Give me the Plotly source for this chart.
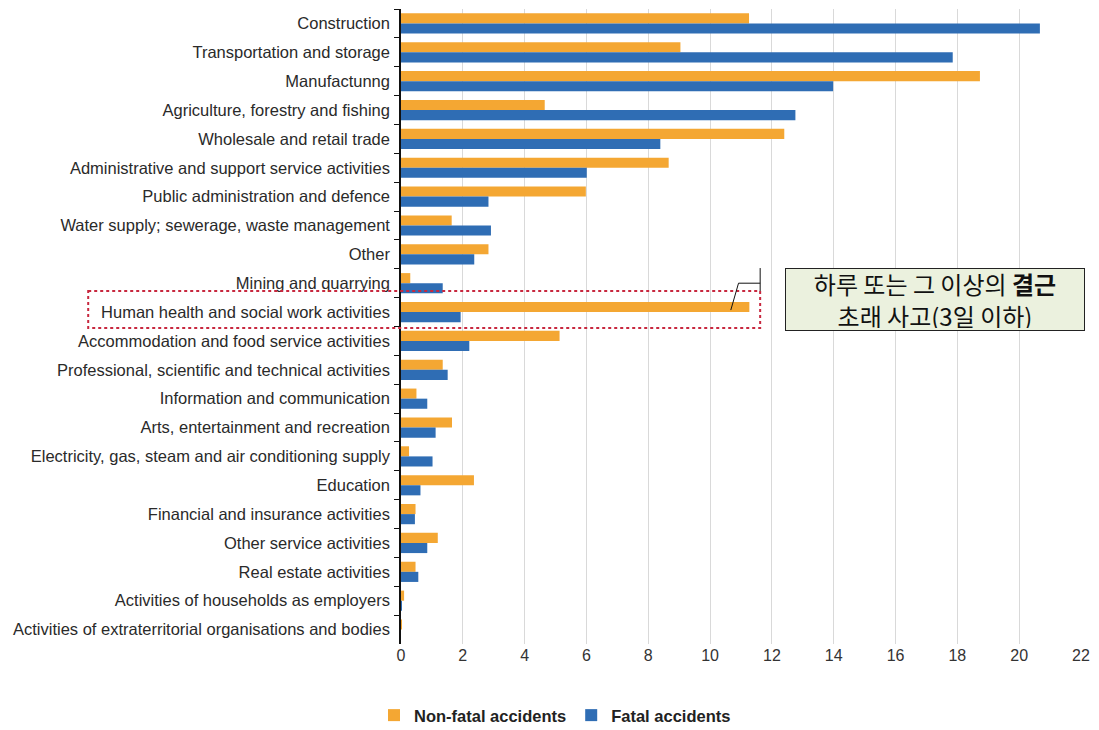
import plotly.graph_objects as go

# Share of accidents at work by economic activity (%)
sectors = [
    "Construction",
    "Transportation and storage",
    "Manufactunng",
    "Agriculture, forestry and fishing",
    "Wholesale and retail trade",
    "Administrative and support service activities",
    "Public administration and defence",
    "Water supply; sewerage, waste management",
    "Other",
    "Mining and quarrying",
    "Human health and social work activities",
    "Accommodation and food service activities",
    "Professional, scientific and technical activities",
    "Information and communication",
    "Arts, entertainment and recreation",
    "Electricity, gas, steam and air conditioning supply",
    "Education",
    "Financial and insurance activities",
    "Other service activities",
    "Real estate activities",
    "Activities of households as employers",
    "Activities of extraterritorial organisations and bodies",
]

non_fatal = [11.26, 9.04, 18.73, 4.65, 12.40, 8.66, 5.98, 1.64, 2.83, 0.30, 11.27,
             5.13, 1.35, 0.50, 1.65, 0.26, 2.36, 0.47, 1.19, 0.47, 0.10, 0.03]
fatal = [20.67, 17.85, 13.98, 12.76, 8.39, 6.01, 2.83, 2.91, 2.37, 1.35, 1.93,
         2.21, 1.51, 0.85, 1.12, 1.02, 0.63, 0.45, 0.85, 0.56, 0.02, 0.0]

x_ticks = list(range(0, 23, 2))
X_MAX = 22

ORANGE = "#F4A733"
BLUE = "#2F6DB4"

fig = go.Figure()
fig.add_trace(go.Bar(y=sectors, x=non_fatal, orientation="h", name="Non-fatal accidents",
                     marker=dict(color=ORANGE, line=dict(width=0))))
fig.add_trace(go.Bar(y=sectors, x=fatal, orientation="h", name="Fatal accidents",
                     marker=dict(color=BLUE, line=dict(width=0))))

# Highlight for the health sector and its callout
hh = sectors.index("Human health and social work activities")
hh_val = non_fatal[hh]
red = "#C8283F"
box_right = 11.62
fig.add_shape(type="rect", xref="paper", yref="y", x0=-0.46, x1=box_right / X_MAX,
              y0=hh - 0.73, y1=hh + 0.555,
              line=dict(color=red, width=2, dash="dot"), layer="above")
fig.add_shape(type="line", xref="x", yref="y", x0=box_right, x1=box_right, y0=hh - 1.525, y1=hh - 0.73,
              line=dict(color="#111", width=1))
fig.add_shape(type="line", xref="x", yref="y", x0=hh_val - 0.35, x1=box_right, y0=hh - 1.0, y1=hh - 1.0,
              line=dict(color="#111", width=1))
fig.add_shape(type="line", xref="x", yref="y", x0=hh_val - 0.6, x1=hh_val - 0.35, y0=hh - 0.07, y1=hh - 1.0,
              line=dict(color="#111", width=1))

fig.add_annotation(xref="paper", yref="paper", x=0.785, y=0.543, xanchor="center", yanchor="middle",
                   text="하루 또는 그 이상의 <b>결근</b><br>초래 사고(3일 이하)",
                   showarrow=False, align="center",
                   font=dict(family="Noto Sans CJK KR", size=24, color="#111"),
                   bgcolor="#EBF1DE", bordercolor="#222", borderwidth=1, borderpad=2,
                   width=294, height=57)

fig.update_layout(
    width=1099, height=730,
    margin=dict(l=401, r=13, t=9, b=86),
    paper_bgcolor="white", plot_bgcolor="white",
    barmode="group", bargap=0.3, bargroupgap=0,
    font=dict(family="Liberation Sans, Arial, sans-serif", size=16, color="#2a2a2a"),
    legend=dict(orientation="h", xref="container", yref="container", x=0.505, y=0.02,
                xanchor="center", yanchor="middle", traceorder="normal",
                font=dict(size=16.5, color="#222", weight="bold"), itemwidth=30),
    showlegend=True,
)
fig.update_xaxes(range=[0, X_MAX], tickvals=x_ticks, showgrid=True, gridcolor="#D9D9D9", gridwidth=1,
                 zeroline=False, showline=False, ticks="", tickfont=dict(size=16, color="#333"),
                 fixedrange=True)
fig.update_yaxes(autorange="reversed", showline=True, linecolor="#111", linewidth=1.5,
                 ticks="outside", tickson="boundaries", ticklen=5, tickcolor="#111",
                 showgrid=False, tickfont=dict(size=16.5, color="#2a2a2a"), ticklabelstandoff=6,
                 fixedrange=True)

fig.write_html("out.html")
